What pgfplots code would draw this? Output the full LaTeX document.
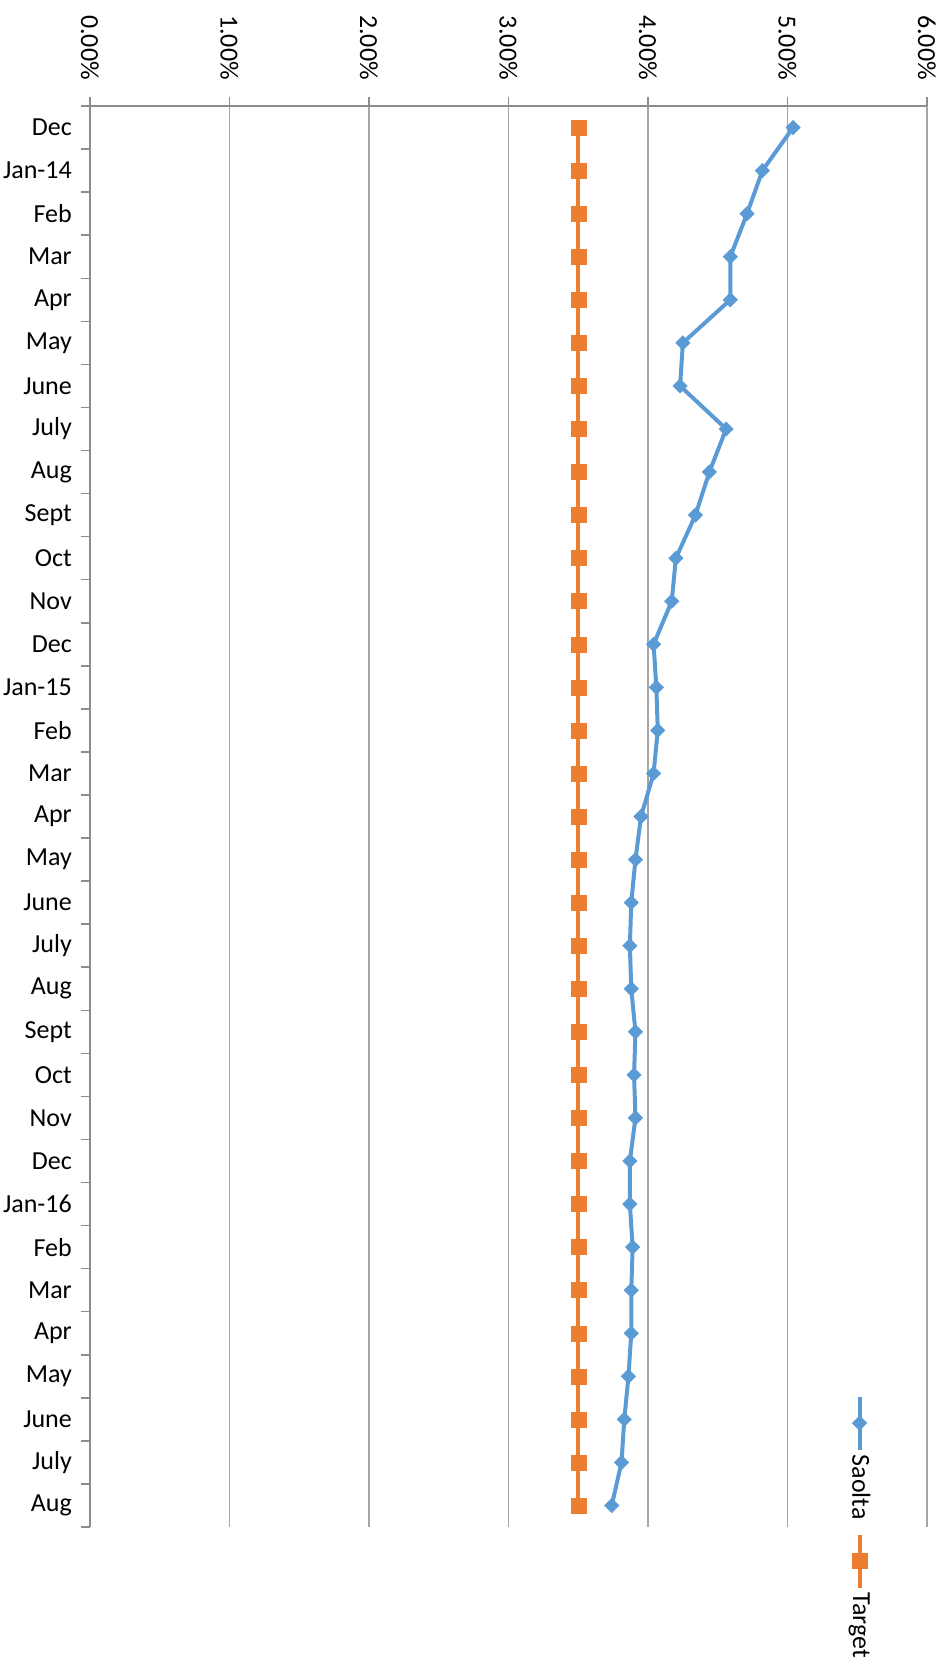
\documentclass[border=0pt]{standalone}
\usepackage{pgfplots}
\usepackage{pgfplotstable}
\pgfplotsset{compat=1.18}
\usepackage{fontspec}
\setmainfont{Carlito}
\definecolor{sblue}{HTML}{5B9BD5}
\definecolor{torange}{HTML}{ED7D31}
\definecolor{gridgray}{HTML}{A6A6A6}
\definecolor{axgray}{HTML}{8C8C8C}
\pgfplotstableread{
i saolta target
0 5.04 3.5
1 4.82 3.5
2 4.71 3.5
3 4.59 3.5
4 4.59 3.5
5 4.25 3.5
6 4.23 3.5
7 4.56 3.5
8 4.44 3.5
9 4.34 3.5
10 4.20 3.5
11 4.17 3.5
12 4.04 3.5
13 4.06 3.5
14 4.07 3.5
15 4.04 3.5
16 3.95 3.5
17 3.91 3.5
18 3.88 3.5
19 3.87 3.5
20 3.88 3.5
21 3.91 3.5
22 3.90 3.5
23 3.91 3.5
24 3.87 3.5
25 3.87 3.5
26 3.89 3.5
27 3.88 3.5
28 3.88 3.5
29 3.86 3.5
30 3.83 3.5
31 3.81 3.5
32 3.74 3.5
}\datatable
\newcommand{\lblfont}{\fontsize{26bp}{31bp}\selectfont}
\pgfplotsset{
  vleg/.style={legend image code/.code={%
    \draw[mark repeat=2,mark phase=2,##1] plot coordinates {(0bp,0bp) (0bp,-26.5bp) (0bp,-53bp)};
    \node[text=black, font=\lblfont, rotate=-90, anchor=west, inner sep=0pt] at (0bp,-58bp) {#1};}},
}
\begin{document}
\lblfont
\begin{tikzpicture}
\path[use as bounding box] (0,0) rectangle (949bp,-1668bp);
\begin{axis}[
  at={(90bp,-106bp)}, anchor=north west,
  scale only axis, width=837bp, height=1421bp,
  xmin=0, xmax=6, ymin=-0.5, ymax=32.5, y dir=reverse,
  axis x line*=top, axis y line*=left,
  x axis line style={-, draw=axgray, line width=1.5bp},
  y axis line style={-, draw=axgray, line width=1.5bp},
  xtick={0,1,2,3,4,5,6},
  xticklabels={0.00\%,1.00\%,2.00\%,3.00\%,4.00\%,5.00\%,6.00\%},
  ytick={0,...,32},
  yticklabels={Dec,Jan-14,Feb,Mar,Apr,May,June,July,Aug,Sept,Oct,Nov,Dec,Jan-15,Feb,Mar,Apr,May,June,July,Aug,Sept,Oct,Nov,Dec,Jan-16,Feb,Mar,Apr,May,June,July,Aug},
  minor xtick={0,1,2,3,4,5,6},
  minor ytick={-0.5,0.5,...,32.5},
  major tick length=0pt, minor tick length=9bp,
  tick align=outside,
  minor tick style={draw=axgray, line width=1.5bp},
  xmajorgrids, major grid style={draw=gridgray, line width=1.5bp},
  tick label style={font=\lblfont, text=black},
  xticklabel style={rotate=-90, anchor=east, inner sep=0pt},
  xticklabel shift=26bp,
  yticklabel style={anchor=east, inner sep=0pt},
  yticklabel shift=18bp,
  legend columns=1,
  legend style={draw=none, fill=none, inner sep=0pt,
    at={(axis cs:5.52,29.42)}, anchor=north,
    row sep=13bp, column sep=0pt,
    nodes={inner sep=0pt, outer sep=0pt}},
  clip=false,
]
\addplot[sblue, line width=4bp, mark=square*, mark size=5.1bp,
  mark options={rotate=45, solid, fill=sblue, draw=sblue, line width=0.5bp},
  vleg=Saolta]
  table[x=saolta, y=i] {\datatable};
\addlegendentry{\mbox{}}
\addplot[torange, line width=4bp, mark=square*, mark size=7.5bp,
  mark options={solid, fill=torange, draw=torange, line width=0.5bp},
  vleg=Target]
  table[x=target, y=i] {\datatable};
\addlegendentry{\mbox{}}
\end{axis}
\end{tikzpicture}
\end{document}
